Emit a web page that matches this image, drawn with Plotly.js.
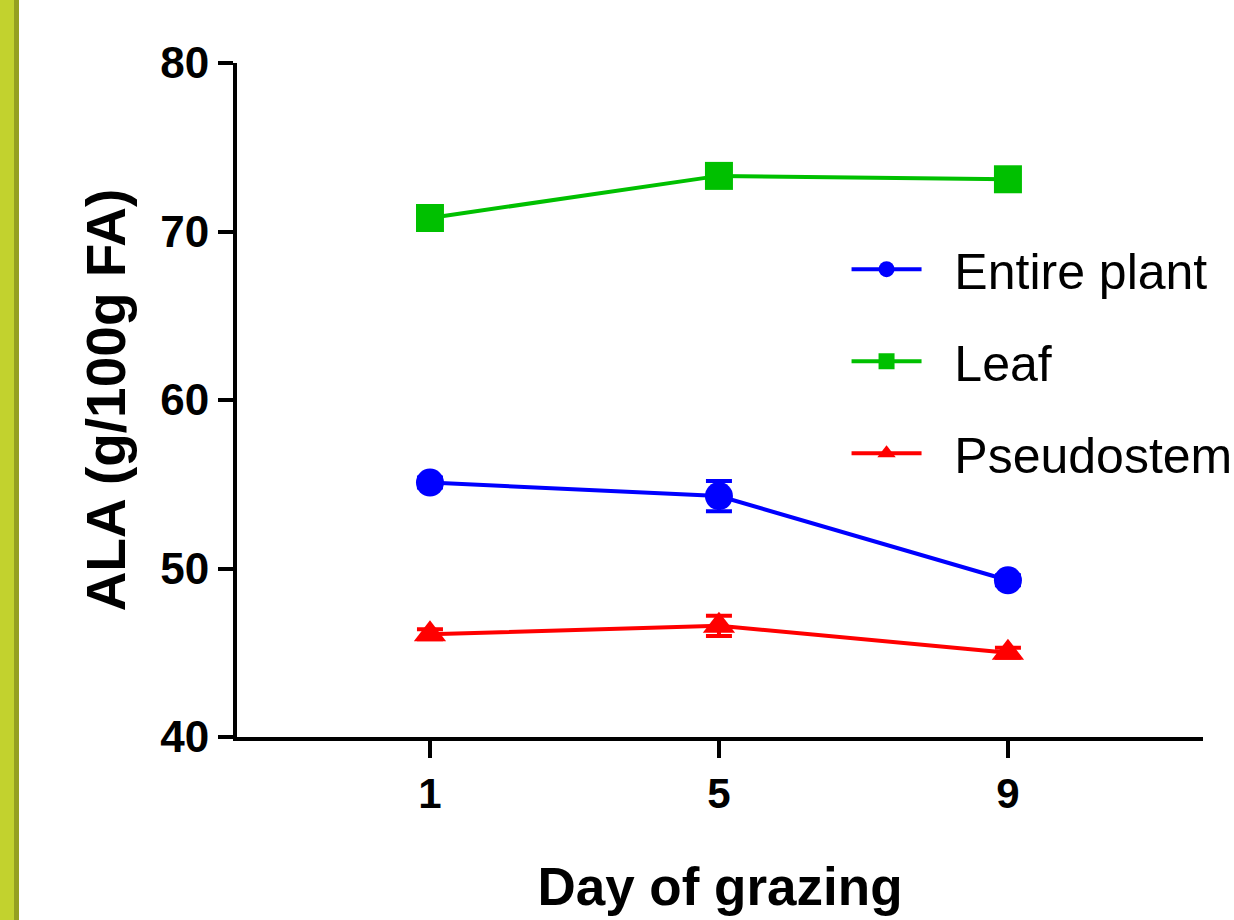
<!DOCTYPE html>
<html>
<head>
<meta charset="utf-8">
<script src="https://cdn.plot.ly/plotly-3.0.1.min.js"></script>
<style>
  html, body { margin: 0; padding: 0; background: #ffffff; }
  #chart { width: 1234px; height: 920px; }
</style>
</head>
<body>
<div id="chart"></div>
<script>
// ---- Data ----
const days = [1, 5, 9];
const seriesNames = ["Entire plant", "Leaf", "Pseudostem"];
const entirePlant = [55.1, 54.3, 49.3];
const entirePlantErr = [0.3, 0.9, 0.3];
const leaf = [70.8, 73.3, 73.1];
const leafErr = [0.3, 0.3, 0.3];
const pseudostem = [46.1, 46.6, 45.0];
const pseudostemErr = [0.3, 0.6, 0.3];
const yTicks = [40, 50, 60, 70, 80];
const xTicks = [1, 5, 9];

const colors = ["#0000ff", "#00c000", "#ff0000"];
const symbols = ["circle", "square", "triangle-up"];
const values = [entirePlant, leaf, pseudostem];
const errs = [entirePlantErr, leafErr, pseudostemErr];

const traces = values.map((v, i) => ({
  x: days,
  y: v,
  name: "\u00a0\u00a0" + seriesNames[i],
  legendgroup: "g" + i,
  type: "scatter",
  mode: "lines+markers",
  line: { color: colors[i], width: 4 },
  marker: { color: colors[i], symbol: symbols[i], size: 28 },
  error_y: { type: "data", array: errs[i], visible: true, color: colors[i], thickness: 4, width: 13 }
}));

const fontFam = "Liberation Sans, Arial, sans-serif";
const plotW = 1234 - 237 - 31;
const plotH = 920 - 63 - 183;

const layout = {
  width: 1234,
  height: 920,
  margin: { l: 237, r: 31, t: 63, b: 183, autoexpand: false },
  paper_bgcolor: "#ffffff",
  plot_bgcolor: "#ffffff",
  showlegend: true,
  legend: {
    x: 0.631, y: 0.752, xanchor: "left", yanchor: "top",
    bgcolor: "rgba(0,0,0,0)",
    font: { family: fontFam, size: 50, color: "#000000" },
    itemwidth: 70,
    tracegroupgap: 24
  },
  xaxis: {
    range: [-1.671, 11.70],
    tickvals: xTicks,
    ticktext: xTicks.map(String),
    showgrid: false, zeroline: false,
    showline: true, linecolor: "#000000", linewidth: 4,
    ticks: "outside", ticklen: 17, tickwidth: 4, tickcolor: "#000000",
    tickfont: { family: fontFam, size: 42, color: "#000000", weight: "bold" },
    title: { text: "Day of grazing", font: { family: fontFam, size: 53, color: "#000000", weight: "bold" }, standoff: 52 }
  },
  yaxis: {
    range: [40, 80],
    tickvals: yTicks,
    ticktext: yTicks.map(String),
    showgrid: false, zeroline: false,
    showline: true, linecolor: "#000000", linewidth: 4,
    ticks: "outside", ticklen: 15, tickwidth: 4, tickcolor: "#000000",
    tickfont: { family: fontFam, size: 44, color: "#000000", weight: "bold" },
    title: { text: "ALA (g/100g FA)", font: { family: fontFam, size: 55, color: "#000000", weight: "bold" }, standoff: 18 }
  },
  shapes: [
    { type: "rect", xref: "paper", yref: "paper", x0: -237 / plotW, x1: -223 / plotW, y0: -183 / plotH, y1: 1 + 63 / plotH, fillcolor: "#c2d22e", line: { width: 0 }, layer: "below" },
    { type: "rect", xref: "paper", yref: "paper", x0: -223 / plotW, x1: -218 / plotW, y0: -183 / plotH, y1: 1 + 63 / plotH, fillcolor: "#95a020", line: { width: 0 }, layer: "below" }
  ]
};

Plotly.newPlot("chart", traces, layout, { displayModeBar: false, staticPlot: true });
</script>
</body>
</html>
